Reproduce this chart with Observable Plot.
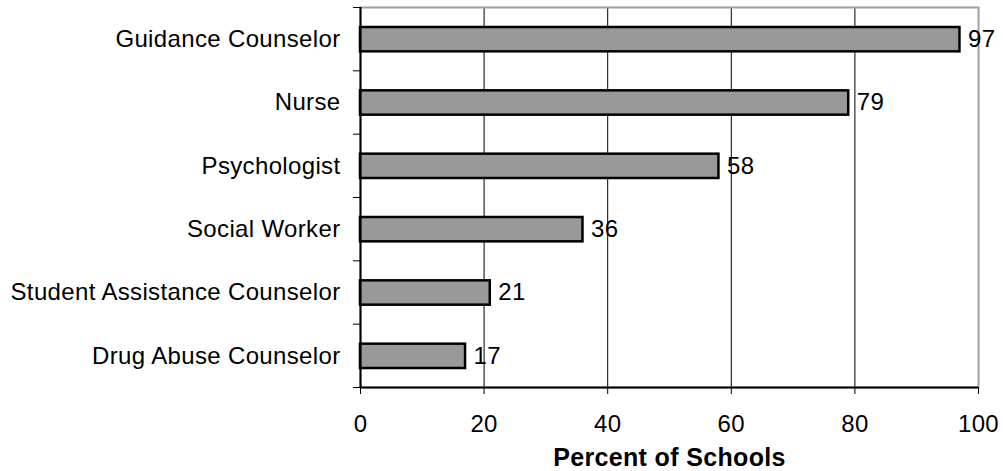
<!DOCTYPE html>
<html>
<head>
<meta charset="utf-8">
<script src="https://cdn.jsdelivr.net/npm/d3@7"></script>
<script src="https://cdn.jsdelivr.net/npm/@observablehq/plot@0.6"></script>
<style>
  html, body { margin: 0; padding: 0; background: #ffffff; }
  #chart { width: 1003px; height: 471px; }
</style>
</head>
<body>
<div id="chart"></div>
<script>
const categories = ["Guidance Counselor", "Nurse", "Psychologist", "Social Worker", "Student Assistance Counselor", "Drug Abuse Counselor"];
const values = [97, 79, 58, 36, 21, 17];
const xTicks = [0, 20, 40, 60, 80, 100];
const gridTicks = [20, 40, 60, 80];
const xLabel = "Percent of Schools";

const data = categories.map((c, i) => ({category: c, value: values[i], i}));
const yBoundaries = d3.range(categories.length + 1);

const chart = Plot.plot({
  width: 1003,
  height: 471,
  marginLeft: 360,
  marginRight: 25,
  marginTop: 7,
  marginBottom: 84,
  style: {fontFamily: "'Liberation Sans', Arial, sans-serif", letterSpacing: "0.35px", background: "#ffffff", color: "#000"},
  x: {domain: [0, 100], label: null},
  y: {domain: [0, categories.length], reverse: true, label: null},
  marks: [
    Plot.ruleX(gridTicks, {stroke: "#000", strokeWidth: 1}),
    Plot.frame({stroke: "#a0a0a0", strokeWidth: 2}),
    Plot.rectX(data, {x1: 0, x2: "value", y1: "i", y2: d => d.i + 1, insetTop: 20, insetBottom: 19, fill: "#999999", stroke: "#000", strokeWidth: 2.5}),
    Plot.ruleX([0], {stroke: "#000", strokeWidth: 2}),
    Plot.ruleY([categories.length], {stroke: "#000", strokeWidth: 2}),
    Plot.axisY({ticks: yBoundaries, tickSize: 7, tickFormat: () => "", stroke: "#000", label: null}),
    Plot.axisX({ticks: xTicks, tickSize: 7, tickPadding: 20, fontSize: 24, stroke: "#000", label: null}),
    Plot.text(data, {x: 0, y: d => d.i + 0.5, text: "category", textAnchor: "end", dx: -20, fontSize: 24, fill: "#000"}),
    Plot.text(data, {x: "value", y: d => d.i + 0.5, text: d => String(d.value), textAnchor: "start", dx: 8, fontSize: 24, fill: "#000"}),
    Plot.text([xLabel], {frameAnchor: "bottom", dy: 70.5, text: d => d, fontWeight: "bold", fontSize: 25, lineAnchor: "middle", fill: "#000"})
  ]
});
document.getElementById("chart").appendChild(chart);
</script>
</body>
</html>
